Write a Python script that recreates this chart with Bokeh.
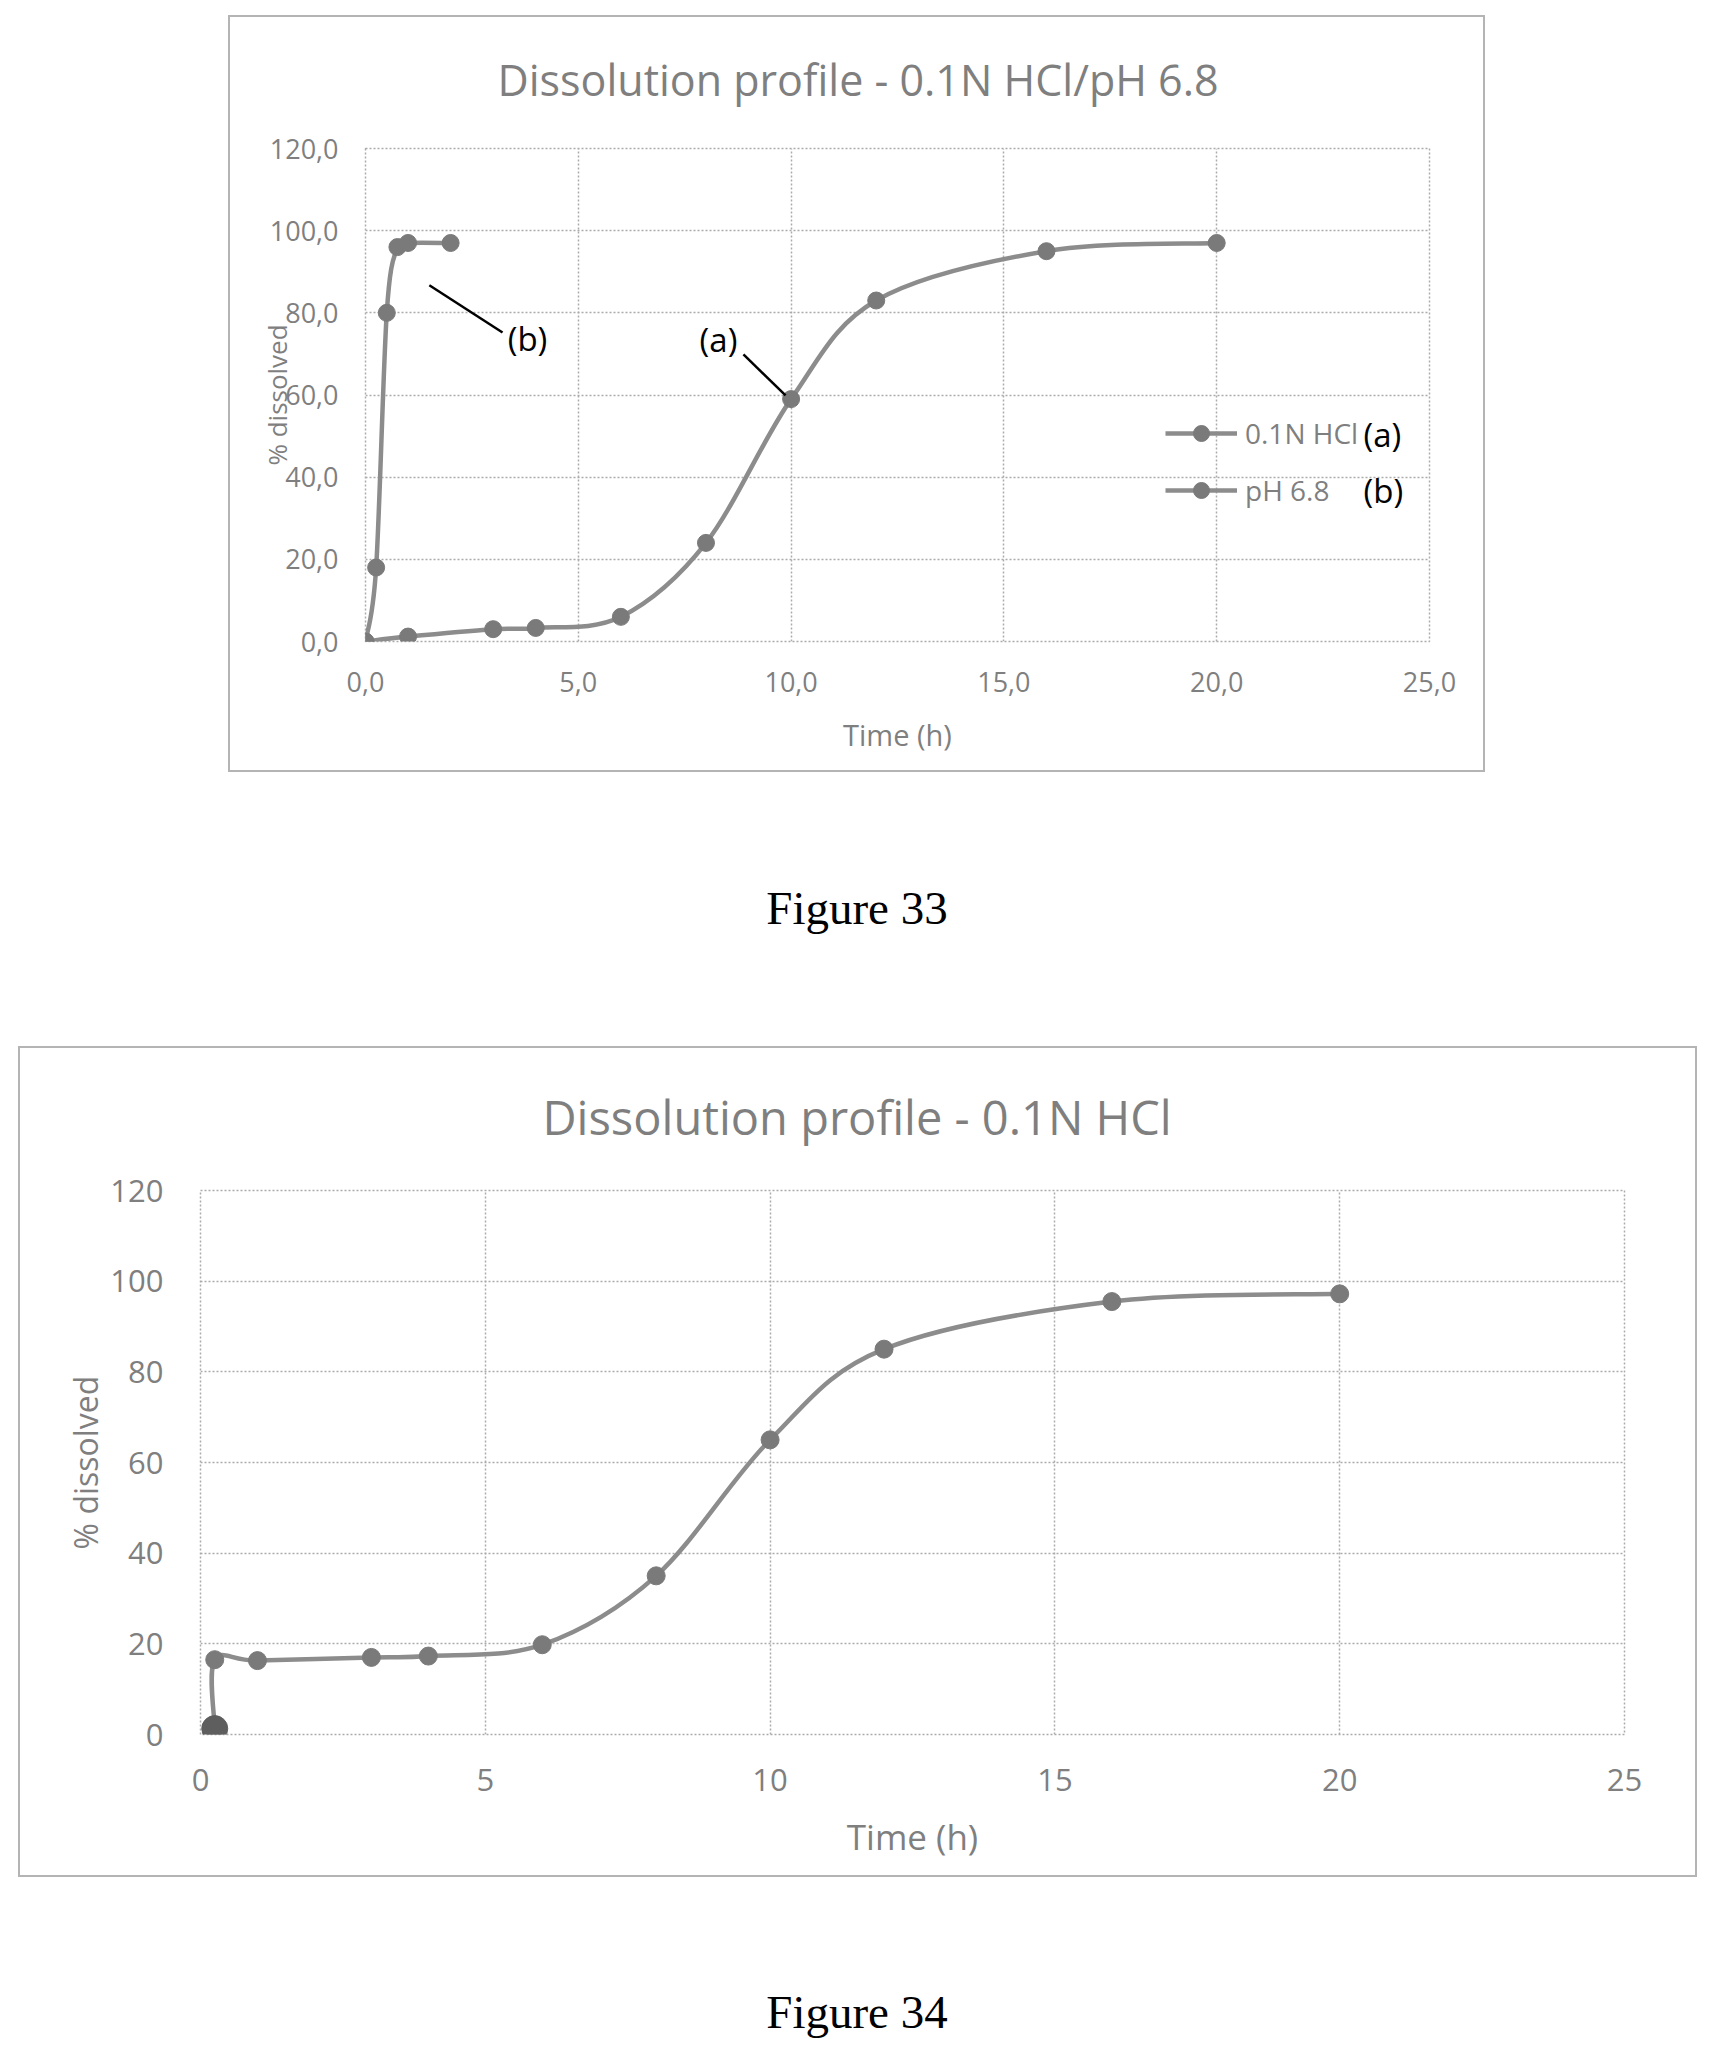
import numpy as np
from bokeh.plotting import figure
from bokeh.models import Legend, LegendItem, FixedTicker, Div, Range1d, Title, Label
from bokeh.embed import file_html
from bokeh.resources import INLINE

# ---------------- data: Figure 33 ----------------
fig33_title = "Dissolution profile - 0.1N HCl/pH 6.8"
hcl_time = [0, 1, 3, 4, 6, 8, 10, 12, 16, 20]
hcl_pct = [0.0, 1.2, 3.0, 3.3, 6.0, 24.0, 59.0, 83.0, 95.0, 97.0]
ph68_time = [0, 0.25, 0.5, 0.75, 1, 2]
ph68_pct = [0.0, 18.0, 80.0, 96.0, 97.0, 97.0]
series_names = ["0.1N HCl", "pH 6.8"]
series_tags = ["(a)", "(b)"]
fig33_x_ticks = [0, 5, 10, 15, 20, 25]
fig33_x_labels = ["0,0", "5,0", "10,0", "15,0", "20,0", "25,0"]
fig33_y_ticks = [0, 20, 40, 60, 80, 100, 120]
fig33_y_labels = ["0,0", "20,0", "40,0", "60,0", "80,0", "100,0", "120,0"]

# ---------------- data: Figure 34 ----------------
fig34_title = "Dissolution profile - 0.1N HCl"
hcl34_time = [0.25, 0.25, 1, 3, 4, 6, 8, 10, 12, 16, 20]
hcl34_pct = [1.3, 16.5, 16.3, 17.0, 17.3, 19.8, 35.0, 65.0, 85.0, 95.5, 97.2]
fig34_x_ticks = [0, 5, 10, 15, 20, 25]
fig34_x_labels = ["0", "5", "10", "15", "20", "25"]
fig34_y_ticks = [0, 20, 40, 60, 80, 100, 120]
fig34_y_labels = ["0", "20", "40", "60", "80", "100", "120"]

x_title = "Time (h)"
y_title = "% dissolved"
captions = ["Figure 33", "Figure 34"]

# ---------------- styling ----------------
FONT = "Open Sans"
TXT = "#7f7f7f"
LINE = "#8c8c8c"
MARK = "#7a7a7a"
GRID = "#ababab"


def smooth_parts(xs, ys, k=1.0 / 6.0):
    """Catmull-Rom style Bezier control points through the data points."""
    x = np.asarray(xs, float)
    y = np.asarray(ys, float)
    n = len(x)
    xp = np.concatenate([[x[0]], x, [x[-1]]])
    yp = np.concatenate([[y[0]], y, [y[-1]]])
    return dict(
        x0=x[:-1], y0=y[:-1], x1=x[1:], y1=y[1:],
        cx0=x[:-1] + (xp[2:n + 1] - xp[0:n - 1]) * k,
        cy0=y[:-1] + (yp[2:n + 1] - yp[0:n - 1]) * k,
        cx1=x[1:] - (xp[3:n + 2] - xp[1:n]) * k,
        cy1=y[1:] - (yp[3:n + 2] - yp[1:n]) * k,
    )


def make_fig(width, height, borders, title, title_size, title_offset, title_standoff,
             spacer_standoff, xt, xl, yt, yl, tick_size, x_std, y_std,
             xlab_size, ylab_size, x_lab_std, y_lab_std):
    left, right, top, bottom = borders
    p = figure(width=width, height=height, output_backend="svg", toolbar_location=None,
               x_range=Range1d(0, 25), y_range=Range1d(0, 120),
               min_border_left=left, min_border_right=right,
               min_border_top=top, min_border_bottom=bottom,
               background_fill_color="white", border_fill_color="white",
               styles={"outline": "2px solid #b4b4b4"})
    p.title = Title(text=title, align="left", offset=title_offset,
                    vertical_align="middle", standoff=title_standoff,
                    text_font=FONT, text_font_size=f"{title_size}px",
                    text_font_style="normal", text_color=TXT)
    # empty spacer between the frame and the title
    p.add_layout(Title(text=" ", text_font_size="1px", standoff=spacer_standoff,
                       text_color="white"), "above")
    p.xaxis.ticker = FixedTicker(ticks=xt)
    p.yaxis.ticker = FixedTicker(ticks=yt)
    p.xaxis.major_label_overrides = {t: s for t, s in zip(xt, xl)}
    p.yaxis.major_label_overrides = {t: s for t, s in zip(yt, yl)}
    for ax, std, lsz in ((p.xaxis, x_std, xlab_size), (p.yaxis, y_std, ylab_size)):
        ax.axis_line_color = None
        ax.major_tick_line_color = None
        ax.minor_tick_line_color = None
        ax.major_tick_in = 0
        ax.major_tick_out = 0
        ax.major_label_standoff = std
        ax.major_label_text_font = FONT
        ax.major_label_text_font_size = f"{tick_size}px"
        ax.major_label_text_color = TXT
        ax.axis_label_text_font = FONT
        ax.axis_label_text_font_size = f"{lsz}px"
        ax.axis_label_text_font_style = "normal"
        ax.axis_label_text_color = TXT
    p.xaxis.axis_label = x_title
    p.yaxis.axis_label = y_title
    p.xaxis.axis_label_standoff = x_lab_std
    p.yaxis.axis_label_standoff = y_lab_std
    for g in (p.xgrid, p.ygrid):
        g.grid_line_color = GRID
        g.grid_line_width = 1.5
        g.grid_line_dash = "2 2"
    p.outline_line_color = GRID
    p.outline_line_width = 1.5
    p.outline_line_dash = "2 2"
    return p


# ---------------- Figure 33 ----------------
p33 = make_fig(1253, 753, (135, 54, 131, 129), fig33_title, 43, 132, 40, 16,
               fig33_x_ticks, fig33_x_labels, fig33_y_ticks, fig33_y_labels,
               27, 30, 27, 29, 26, 20, -28)
p33.margin = (17, 0, 0, 230)

rends = []
for t, v in ((hcl_time, hcl_pct), (ph68_time, ph68_pct)):
    b = p33.bezier(**smooth_parts(t, v), line_color=LINE, line_width=4.5)
    s = p33.scatter(t, v, size=17, marker="circle", fill_color=MARK, line_color=MARK)
    rends.append((b, s))

legend = Legend(items=[LegendItem(label=series_names[i], renderers=list(rends[i]))
                       for i in range(2)],
                location=(800, 131), glyph_width=72, glyph_height=40,
                label_height=40, label_standoff=8, spacing=17, padding=0, margin=0,
                border_line_color=None, background_fill_alpha=0,
                label_text_font=FONT, label_text_font_size="28px",
                label_text_color=TXT)
p33.add_layout(legend)

# leader lines and tags
p33.segment(x0=[1.50, 8.88], y0=[86.7, 69.9], x1=[3.22, 9.87], y1=[75.2, 59.9],
            line_color="black", line_width=2.5)
for (tx, ty), tag in zip(((7.85, 73.5), (3.34, 73.8)), series_tags):
    p33.add_layout(Label(x=tx, y=ty, text=tag, text_align="left", text_baseline="middle",
                         text_font=FONT, text_font_size="33px", text_color="black"))
for ty, tag in zip((50.4, 36.8), series_tags):
    p33.add_layout(Label(x=23.45, y=ty, text=tag, text_align="left", text_baseline="middle",
                         text_font=FONT, text_font_size="33px", text_color="black"))

cap_style = ('<div style="width:1714px;text-align:center;font-family:\'Liberation Serif\','
             'serif;font-size:47px;line-height:80px;color:black;">{}</div>')
cap33 = Div(text=cap_style.format(captions[0]), width=1714, height=80, margin=(98, 0, 0, 0))

# ---------------- Figure 34 ----------------
p34 = make_fig(1675, 827, (180, 71, 142, 141), fig34_title, 47, 342, 40, 18,
               fig34_x_ticks, fig34_x_labels, fig34_y_ticks, fig34_y_labels,
               31, 34, 37, 35, 32, 19, 0)
p34.margin = (100, 0, 0, 20)
p34.bezier(**smooth_parts(hcl34_time, hcl34_pct), line_color=LINE, line_width=4.5)
p34.scatter(hcl34_time, hcl34_pct, size=18, marker="circle", fill_color=MARK, line_color=MARK)
p34.scatter(hcl34_time[:1], hcl34_pct[:1], size=26, marker="circle",
            fill_color="#5e5e5e", line_color="#5e5e5e")

cap34 = Div(text=cap_style.format(captions[1]), width=1714, height=80, margin=(97, 0, 0, 0))

roots = [p33, cap33, p34, cap34]

open("out.html", "w").write(file_html(roots, INLINE))
